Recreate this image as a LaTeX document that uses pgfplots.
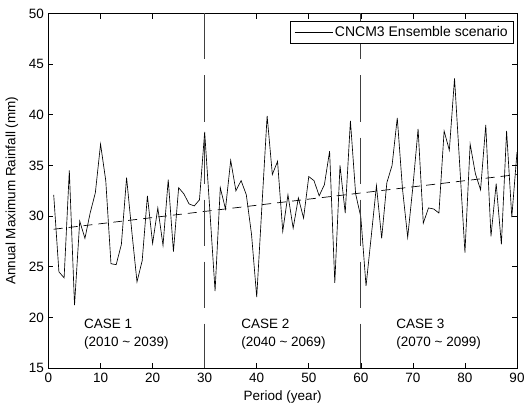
\documentclass[border=0pt]{standalone}
\usepackage{fontspec}
\setmainfont{Liberation Sans}
\usepackage{pgfplots}
\pgfplotsset{compat=1.18}

\pgfplotstableread{
yr  val
1  32.1
2  24.5
3  23.9
4  34.5
5  21.2
6  29.5
7  27.8
8  30.3
9  32.3
10 37.1
11 33.5
12 25.3
13 25.2
14 27.2
15 33.8
16 28.5
17 23.5
18 25.6
19 32.0
20 27.3
21 30.8
22 27.1
23 33.6
24 26.5
25 32.8
26 32.2
27 31.2
28 31.0
29 31.6
30 38.3
31 30.5
32 22.6
33 32.8
34 30.7
35 35.5
36 32.5
37 33.5
38 32.1
39 28.2
40 22.0
41 31.0
42 39.9
43 34.1
44 35.4
45 28.5
46 32.1
47 28.8
48 31.8
49 29.8
50 33.9
51 33.5
52 32.0
53 33.1
54 36.4
55 23.4
56 35.0
57 30.3
58 39.4
59 32.2
60 29.9
61 23.1
62 28.0
63 33.0
64 27.8
65 33.3
66 35.0
67 39.7
68 32.7
69 27.9
70 32.9
71 38.6
72 29.3
73 30.8
74 30.7
75 30.3
76 38.4
77 36.5
78 43.6
79 35.0
80 26.4
81 37.1
82 34.2
83 32.6
84 39.0
85 28.0
86 33.2
87 27.2
88 38.4
89 29.9
90 36.3
}\rainfall

\begin{document}
\fontsize{13.5bp}{16bp}\selectfont
\begin{tikzpicture}
\useasboundingbox (-48.5bp,-40bp) rectangle (476.5bp,368bp);
\begin{axis}[
    scale only axis,
    width=468.5bp, height=354.5bp,
    xmin=0, xmax=90, ymin=15, ymax=50,
    xtick={0,10,...,90}, ytick={15,20,...,50},
    tick align=inside,
    major tick length=5bp,
    axis line style={line width=0.8bp},
    every tick/.style={black, line width=0.6bp},
    /pgf/number format/assume math mode=true,
    ticklabel style={font=\fontsize{13.5bp}{16bp}\selectfont},
    label style={font=\fontsize{13.5bp}{16bp}\selectfont},
    xlabel={Period (year)},
    ylabel={Annual Maximum Rainfall (mm)},
    xlabel style={at={(axis description cs:0.5,-0.0818)}, anchor=center},
    ylabel style={at={(axis description cs:-0.078,0.5)}, anchor=center},
    legend style={at={(rel axis cs:0.9936,0.9788)}, anchor=north east,
        draw=black, line width=0.6bp, inner xsep=4bp, inner ysep=3bp,
        font=\fontsize{14bp}{16bp}\selectfont},
    legend cell align=left,
    legend image code/.code={\draw[#1] (0bp,0bp) -- (38bp,0bp);},
]
\addplot[black, line width=0.65bp] table[x=yr, y=val] {\rainfall};
\addlegendentry{CNCM3 Ensemble scenario}
\addplot[black, line width=0.7bp, dash pattern=on 9bp off 6bp, forget plot]
    coordinates {(1,28.7) (90,34.1)};
\addplot[black!75, line width=0.7bp, dash pattern=on 46bp off 16bp, forget plot]
    coordinates {(30,50) (30,15)};
\addplot[black!75, line width=0.7bp, dash pattern=on 46bp off 16bp, forget plot]
    coordinates {(60,50) (60,15)};
\node[anchor=west, inner sep=0pt] at (axis cs:6.8,19.35) {CASE 1};
\node[anchor=west, inner sep=0pt] at (axis cs:6.8,17.5) {(2010 \textasciitilde{} 2039)};
\node[anchor=west, inner sep=0pt] at (axis cs:37.0,19.35) {CASE 2};
\node[anchor=west, inner sep=0pt] at (axis cs:37.0,17.5) {(2040 \textasciitilde{} 2069)};
\node[anchor=west, inner sep=0pt] at (axis cs:66.8,19.35) {CASE 3};
\node[anchor=west, inner sep=0pt] at (axis cs:66.8,17.5) {(2070 \textasciitilde{} 2099)};
\end{axis}
\end{tikzpicture}
\end{document}
